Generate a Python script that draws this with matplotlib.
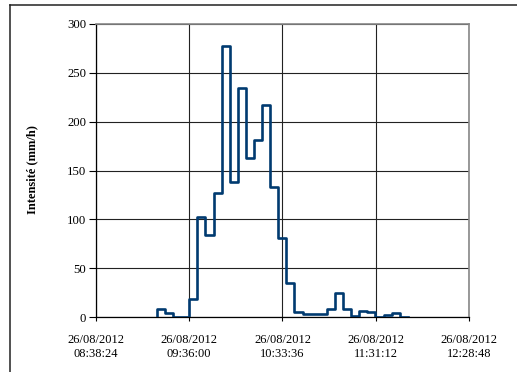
import matplotlib
matplotlib.use("Agg")
import matplotlib.pyplot as plt
import matplotlib.dates as mdates
from matplotlib.lines import Line2D
import pandas as pd

# Interval start times (5-min steps) and intensity values (mm/h)
start_times = ["09:16", "09:21", "09:26", "09:31", "09:36", "09:41", "09:46", "09:51",
               "09:56", "10:01", "10:06", "10:11", "10:16", "10:21", "10:26", "10:31",
               "10:36", "10:41", "10:46", "10:51", "10:56", "11:01", "11:06", "11:11",
               "11:16", "11:21", "11:26", "11:31", "11:36", "11:41", "11:46"]
end_time = "11:51"
intensity = [8, 4, 0, 0, 18, 102, 84, 127, 277, 138, 234, 163, 181, 217, 133, 81,
             35, 5, 3.5, 3.5, 3.5, 8, 25, 8, 1.5, 6, 5, 0, 2, 4, 0.5]

tick_times = ["08:38:24", "09:36:00", "10:33:36", "11:31:12", "12:28:48"]
tick_labels = ["26/08/2012\n" + t for t in tick_times]
yticks = [0, 50, 100, 150, 200, 250, 300]

day = "2012-08-26 "
edges = pd.to_datetime([day + t for t in start_times + [end_time]])
yvals = [0] + intensity
ticks_dt = pd.to_datetime([day + t for t in tick_times])

plt.rcParams['font.family'] = ['Liberation Serif', 'DejaVu Serif']

W, H = 517, 372
fig = plt.figure(figsize=(W / 100, H / 100), dpi=100)
ax = fig.add_axes([96 / W, 1 - 317 / H, (469 - 96) / W, (317 - 24) / H])

ax.step(mdates.date2num(edges), yvals, where='pre', color='#003a70', lw=1.9, zorder=3)

xt = mdates.date2num(ticks_dt)
ax.set_xlim(xt[0], xt[-1])
ax.set_ylim(0, 300)
ax.set_xticks(xt)
ax.set_xticklabels(tick_labels, fontsize=9, linespacing=1.25)
ax.set_yticks(yticks)
ax.set_yticklabels([str(v) for v in yticks], fontsize=9.2)

ax.grid(True, color='#222222', lw=0.8, zorder=1)
ax.set_axisbelow(True)
for s in ['top', 'right']:
    ax.spines[s].set_color('#888888')
    ax.spines[s].set_linewidth(1.2)
for s in ['left', 'bottom']:
    ax.spines[s].set_color('black')
    ax.spines[s].set_linewidth(0.9)
ax.tick_params(axis='y', direction='out', length=5, width=0.8, pad=2)
ax.tick_params(axis='x', direction='out', length=3, width=0.8, pad=9)

fig.text(32 / W, 1 - 170 / H, "Intensité (mm/h)", rotation=90, fontsize=9,
         fontweight='bold', ha='center', va='center')

# outer chart border
fig.add_artist(Line2D([10 / W, 10 / W], [0, 1 - 5 / H], transform=fig.transFigure,
                      color='#222222', lw=1.1))
fig.add_artist(Line2D([10 / W, 1], [1 - 5 / H, 1 - 5 / H], transform=fig.transFigure,
                      color='#222222', lw=1.1))

fig.savefig("out.png", dpi=100)
